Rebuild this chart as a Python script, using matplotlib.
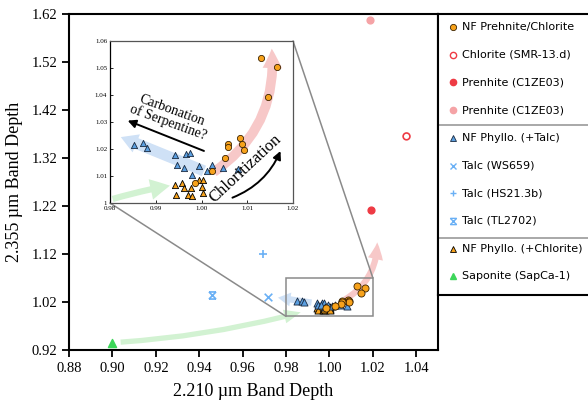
import matplotlib.pyplot as plt
from matplotlib.patches import FancyArrowPatch, Rectangle, ConnectionPatch
from matplotlib.path import Path

SERIF = 'Liberation Serif'

# NF Prehnite/Chlorite (orange circles)
prch_x = [1.0129, 1.0165, 1.0145, 1.0084, 1.0089, 1.0092, 1.0059, 1.0057, 1.0051, 1.0024, 0.9986]
prch_y = [1.0536, 1.0502, 1.0391, 1.0241, 1.0220, 1.0196, 1.0220, 1.0208, 1.0168, 1.0119, 1.0075]

# NF Phyllo. (+Talc) (blue triangles)
phyt_x = [0.9852, 0.9873, 0.9881, 0.9943, 0.9946, 0.9966, 0.9975, 0.9961, 0.9994, 0.9980,
          1.0013, 1.0024, 1.0047, 1.0079]
phyt_y = [1.0213, 1.0224, 1.0203, 1.0176, 1.0142, 1.0181, 1.0186, 1.0131, 1.0136, 1.0104,
          1.0120, 1.0139, 1.0129, 1.0126]

# NF Phyllo. (+Chlorite) (orange triangles)
phyc_x = [0.9943, 0.9957, 0.9961, 0.9945, 0.9971, 0.9980, 0.9977, 0.9995, 1.0004, 1.0002, 1.0004]
phyc_y = [1.0067, 1.0074, 1.0057, 1.0031, 1.0031, 1.0027, 1.0057, 1.0087, 1.0087, 1.0059, 1.0036]

# library samples
chl_x, chl_y = [1.0355], [1.365]
preh1_x, preh1_y = [1.019], [1.212]
preh2_x, preh2_y = [1.0185], [1.607]
talc_ws_x, talc_ws_y = [0.9715], [1.030]
talc_hs_x, talc_hs_y = [0.9696], [1.119]
talc_tl_x, talc_tl_y = [0.9457], [1.034]
sap_x, sap_y = [0.900], [0.935]

x_ticks = [0.88, 0.90, 0.92, 0.94, 0.96, 0.98, 1.00, 1.02, 1.04]
y_ticks = [0.92, 1.02, 1.12, 1.22, 1.32, 1.42, 1.52, 1.62]
inset_x_ticks = [0.98, 0.99, 1.00, 1.01, 1.02]
inset_y_ticks = [1.00, 1.01, 1.02, 1.03, 1.04, 1.05, 1.06]

legend_labels = ['NF Prehnite/Chlorite', 'Chlorite (SMR-13.d)', 'Prenhite (C1ZE03)',
                 'Prenhite (C1ZE03)', 'NF Phyllo. (+Talc)', 'Talc (WS659)', 'Talc (HS21.3b)',
                 'Talc (TL2702)', 'NF Phyllo. (+Chlorite)', 'Saponite (SapCa-1)']

ORANGE = '#F7A21B'
BLUE = '#5B9FE0'
RED = '#EE3B44'
PINK = '#F5A3A6'
LBLUE = '#6AB0F5'
GREEN = '#3DD65A'

# x with bars on top and bottom
tl_marker = Path([(-1, -1), (1, 1), (-1, 1), (1, -1), (-1, 1), (1, 1), (-1, -1), (1, -1)],
                 [Path.MOVETO, Path.LINETO] * 4)

fig = plt.figure(figsize=(5.88, 4.05), dpi=100)
W, H = 588, 405
ax = fig.add_axes([69 / W, 55 / H, (438 - 69) / W, (350 - 14) / H])


def fat_arrow(a, p0, p1, color, rad=0.0, tail=0.4, head=1.1, hl=1.1, z=1):
    arr = FancyArrowPatch(p0, p1, arrowstyle=f'simple,head_width={head},head_length={hl},tail_width={tail}',
                          connectionstyle=f'arc3,rad={rad}', mutation_scale=10,
                          color=color, lw=0, zorder=z)
    a.add_patch(arr)


def draw_points(a, s):
    a.scatter(phyc_x, phyc_y, marker='^', s=s, c=ORANGE, edgecolors='black', linewidths=0.6, zorder=4)
    a.scatter(phyt_x, phyt_y, marker='^', s=s, c=BLUE, edgecolors='#1a2a40', linewidths=0.6, zorder=4)
    a.scatter(prch_x, prch_y, marker='o', s=s, c=ORANGE, edgecolors='#3a2200', linewidths=0.6, zorder=5)


# main arrows
fat_arrow(ax, (0.9025, 0.936), (0.988, 1.0), '#D2F2D2', rad=0.05, tail=0.38, head=1.0, hl=1.2)
fat_arrow(ax, (0.993, 1.018), (0.975, 1.03), '#CFE1F6', tail=0.45, head=1.0, hl=0.9)
fat_arrow(ax, (1.006, 1.022), (1.022, 1.15), '#F7C8C8', rad=0.3, tail=0.45, head=1.1, hl=1.2)

draw_points(ax, 26)
ax.scatter(chl_x, chl_y, marker='o', s=24, facecolors='none', edgecolors=RED, linewidths=1.2, zorder=5)
ax.scatter(preh1_x, preh1_y, marker='o', s=24, c=RED, zorder=5)
ax.scatter(preh2_x, preh2_y, marker='o', s=24, c=PINK, zorder=5)
ax.scatter(talc_ws_x, talc_ws_y, marker='x', s=30, c=LBLUE, linewidths=1.2, zorder=5)
ax.scatter(talc_hs_x, talc_hs_y, marker='+', s=30, c=LBLUE, linewidths=1.2, zorder=5)
ax.scatter(talc_tl_x, talc_tl_y, marker=tl_marker, s=26, c=LBLUE, linewidths=1.2, zorder=5)
ax.scatter(sap_x, sap_y, marker='^', s=34, c=GREEN, zorder=5)

rect = Rectangle((0.98, 0.99), 0.04, 0.08, fill=False, ec='#8a8a8a', lw=1.1, zorder=3)
ax.add_patch(rect)

ax.set_xlim(0.88, 1.05)
ax.set_ylim(0.92, 1.62)
ax.set_xticks(x_ticks)
ax.set_yticks(y_ticks)
ax.set_xticklabels([f'{v:.2f}' for v in x_ticks], fontfamily=SERIF, fontsize=10.5)
ax.set_yticklabels([f'{v:.2f}' for v in y_ticks], fontfamily=SERIF, fontsize=10.5)
ax.tick_params(direction='out', length=5, width=1.3)
for sp in ax.spines.values():
    sp.set_linewidth(1.5)
ax.set_xlabel('2.210 µm Band Depth', fontfamily=SERIF, fontsize=13, labelpad=6)
ax.set_ylabel('2.355 µm Band Depth', fontfamily=SERIF, fontsize=13, labelpad=6)

# inset
ins = fig.add_axes([110 / W, (405 - 203) / H, (293 - 110) / W, (203 - 41) / H], zorder=5)
fat_arrow(ins, (0.98, 1.0012), (0.9937, 1.0066), '#D2F2D2', rad=-0.03, tail=0.45, head=1.5, hl=1.4)
fat_arrow(ins, (1.0011, 1.0115), (0.9818, 1.0248), '#CFE1F6', tail=0.8, head=1.4, hl=1.2)
fat_arrow(ins, (1.0022, 1.0109), (1.0153, 1.0582), '#F7C8C8', rad=0.3, tail=0.7, head=1.4, hl=1.4)
draw_points(ins, 20)

ins.add_patch(FancyArrowPatch((1.0011, 1.0189), (0.9833, 1.0309), arrowstyle='-|>',
                              mutation_scale=12, lw=1.4, color='black', zorder=6))
ins.add_patch(FancyArrowPatch((1.0062, 1.0016), (1.0175, 1.0202), arrowstyle='-|>',
                              connectionstyle='arc3,rad=0.22', mutation_scale=12, lw=1.4,
                              color='black', zorder=6))
ins.text(0.9931, 1.0319, 'Carbonation\nof Serpentine?', rotation=-20, ha='center', va='center',
         fontfamily=SERIF, fontsize=10, linespacing=0.95, rotation_mode='anchor', zorder=7)
ins.text(1.0097, 1.0128, 'Chloritization', rotation=43, ha='center', va='center',
         fontfamily=SERIF, fontsize=12, rotation_mode='anchor', zorder=7)

ins.set_xlim(0.98, 1.02)
ins.set_ylim(1.00, 1.06)
ins.set_xticks(inset_x_ticks)
ins.set_yticks(inset_y_ticks)
ins.set_xticklabels([f'{v:.2f}' for v in inset_x_ticks], fontfamily=SERIF, fontsize=5)
ins.set_yticklabels(['1'] + [f'{v:.2f}' for v in inset_y_ticks[1:]], fontfamily=SERIF, fontsize=5)
ins.tick_params(direction='in', length=2, width=0.6, pad=2)
for sp in ins.spines.values():
    sp.set_color('#555555')
    sp.set_linewidth(0.9)
ins.spines['left'].set_color('black')

# connection lines from inset to zoom box
for xa, xb in [((0.98, 1.00), (0.98, 0.99)), ((1.02, 1.06), (1.02, 1.07))]:
    con = ConnectionPatch(xyA=xa, coordsA=ins.transData, xyB=xb, coordsB=ax.transData,
                          color='#8a8a8a', lw=1.1, zorder=2)
    fig.add_artist(con)

# legend panel
lg = fig.add_axes([438 / W, (405 - 295) / H, 160 / W, (295 - 14) / H])
lg.set_xlim(0, 160)
lg.set_ylim(295, 14)
lg.set_xticks([])
lg.set_yticks([])
lg.spines['right'].set_visible(False)
for k in ['left', 'top', 'bottom']:
    lg.spines[k].set_linewidth(1.5)

styles = [
    dict(marker='o', mfc=ORANGE, mec='#3a2200', mew=0.6, ms=4.5),
    dict(marker='o', mfc='none', mec=RED, mew=1.0, ms=4.5),
    dict(marker='o', mfc=RED, mec=RED, ms=4.5),
    dict(marker='o', mfc=PINK, mec=PINK, ms=4.5),
    dict(marker='^', mfc=BLUE, mec='#1a2a40', mew=0.6, ms=5),
    dict(marker='x', mec=LBLUE, mew=1.0, ms=4.5),
    dict(marker='+', mec=LBLUE, mew=1.0, ms=5),
    dict(marker=tl_marker, mec=LBLUE, mew=1.0, ms=4.5),
    dict(marker='^', mfc=ORANGE, mec='black', mew=0.6, ms=5),
    dict(marker='^', mfc=GREEN, mec=GREEN, ms=5),
]
for i, (lab, st) in enumerate(zip(legend_labels, styles)):
    yy = 27 + 27.7 * i
    lg.plot([15], [yy], linestyle='none', **st)
    lg.text(24, yy, lab, va='center', ha='left', fontfamily='DejaVu Sans', fontsize=8)
for yy in [124.5, 237.5]:
    lg.axhline(yy, color='#999999', lw=1.2)

fig.savefig('out.png', dpi=100)
